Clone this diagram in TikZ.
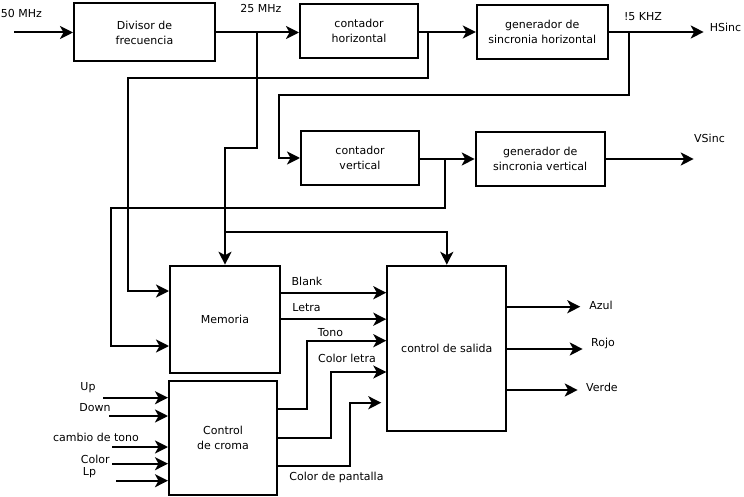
\documentclass[tikz,border=0pt]{standalone}
\usepackage{fontspec}
\setmainfont{DejaVu Sans}
\usetikzlibrary{positioning}
\usetikzlibrary{arrows.meta}

\begin{document}
\begin{tikzpicture}[
x=1pt, y=-1pt,
every node/.style={font=\fontsize{11}{15}\selectfont},
blocknode/.style={rectangle, draw, line width=2pt, align=center, inner sep=0pt},
labelnode/.style={rectangle, draw=none, inner sep=0pt},
edge/.style={-{Stealth[length=13pt,width=13pt,inset=3.5pt]}, line width=2pt}
]
\useasboundingbox (0,0) rectangle (744,497);

%Nodes
\node[blocknode, minimum width=141pt, minimum height=58pt]  (divisor) at (144.5,32.5) {Divisor de\\frecuencia};
\node[blocknode, minimum width=118pt, minimum height=54pt]  (conth)   at (359,31)     {contador\\horizontal};
\node[blocknode, minimum width=131pt, minimum height=54pt]  (genh)    at (542.3,32)   {generador de\\sincronia horizontal};
\node[blocknode, minimum width=118pt, minimum height=54pt]  (contv)   at (360,158)    {contador\\vertical};
\node[blocknode, minimum width=129pt, minimum height=54pt]  (genv)    at (540.2,159)  {generador de\\sincronia vertical};
\node[blocknode, minimum width=110pt, minimum height=107pt] (mem)     at (225,319.2)  {Memoria};
\node[blocknode, minimum width=108pt, minimum height=114pt] (croma)   at (223,438)    {Control\\de croma};
\node[blocknode, minimum width=119pt, minimum height=165pt] (salida)  at (446.8,348.3) {control de salida};

%Free ends and branch points
\coordinate (in50) at (14,32.5);
\coordinate (outh) at (703.7,32);
\coordinate (outv) at (693.7,159);
\coordinate (j25)  at (256.7,32);
\coordinate (jm)   at (225,232.3);
\coordinate (jh)   at (428,32);
\coordinate (jk)   at (628.7,32);
\coordinate (jv)   at (444.7,159);
\coordinate (blank) at ([yshift=26.5pt]mem.east);
\coordinate (letra) at (mem.east);
\coordinate (inup)    at (103.3,397.7);
\coordinate (indown)  at (109.3,416);
\coordinate (incambio) at (112.3,447);
\coordinate (incolor) at (112.3,463.7);
\coordinate (inlp)    at (116,480.7);
\coordinate (outazul)  at (580.3,306.7);
\coordinate (outrojo)  at (582.7,349);
\coordinate (outverde) at (577.7,390);

%Labels
\node[labelnode] (l50)    at (21.5,13)  {50 MHz};
\node[labelnode] (l25)    at (261,8.5)  {25 MHz};
\node[labelnode] (l15)    at (643,17)   {!5 KHZ};
\node[labelnode] (lhs)    at (725.5,27) {HSinc};
\node[labelnode] (lvs)    at (709.5,138) {VSinc};
\node[labelnode] (lblank) at (307,281.5) {Blank};
\node[labelnode] (lletra) at (306.5,307.5) {Letra};
\node[labelnode] (ltono)  at (330.5,332.5) {Tono};
\node[labelnode] (lcolet) at (347,358.5) {Color letra};
\node[labelnode] (lcopan) at (336.5,477) {Color de pantalla};
\node[labelnode] (lup)    at (88,388)   {Up};
\node[labelnode] (ldown)  at (95,407.5) {Down};
\node[labelnode] (lcamb)  at (96,437)   {cambio de tono};
\node[labelnode] (lcolor) at (95.2,459) {Color};
\node[labelnode] (llp)    at (89.5,473) {Lp};
\node[labelnode] (lazul)  at (601,305)  {Azul};
\node[labelnode] (lrojo)  at (603,343)  {Rojo};
\node[labelnode] (lverde) at (602,387)  {Verde};

%Edges
\draw[edge] (in50) -- (divisor.west);
\draw[edge] (divisor.east) -- (divisor.east -| conth.west);
\draw[edge] (j25) |- (225,148.3) -- (mem.north);
\draw[edge] (jm) -| (salida.north);
\draw[edge] (conth.east |- jh) -- (genh.west |- jh);
\draw[edge] (jh) |- (128.3,77.7) |- ([yshift=28.2pt]mem.west);
\draw[edge] (genh.east |- jk) -- (outh);
\draw[edge] (jk) |- (279.3,94.7) |- (contv.west);
\draw[edge] (contv.east |- jv) -- (genv.west |- jv);
\draw[edge] (jv) |- (111,207.7) |- ([yshift=-26.8pt]mem.west);
\draw[edge] (genv.east |- jv) -- (outv);

%Memoria to salida
\draw[edge] (blank) -- (salida.west |- blank);
\draw[edge] (letra) -- (salida.west |- letra);

%Croma to salida
\draw[edge] ([yshift=29pt]croma.east) -| (307.3,340.7) -- ([yshift=7.6pt]salida.west);
\draw[edge] ([yshift=0.3pt]croma.east) -| (331,372) -- ([yshift=-23.7pt]salida.west);
\draw[edge] ([yshift=-27.7pt]croma.east) -| (350,402.7) -- ([xshift=-5pt,yshift=-54.4pt]salida.west);

%Croma inputs
\draw[edge] (inup) -- (croma.west |- inup);
\draw[edge] (indown) -- (croma.west |- indown);
\draw[edge] (incambio) -- (croma.west |- incambio);
\draw[edge] (incolor) -- (croma.west |- incolor);
\draw[edge] (inlp) -- (croma.west |- inlp);

%Outputs
\draw[edge] ([yshift=41.6pt]salida.east) -- (outazul);
\draw[edge] ([yshift=-0.7pt]salida.east) -- (outrojo);
\draw[edge] ([yshift=-41.7pt]salida.east) -- (outverde);

\end{tikzpicture}
\end{document}
